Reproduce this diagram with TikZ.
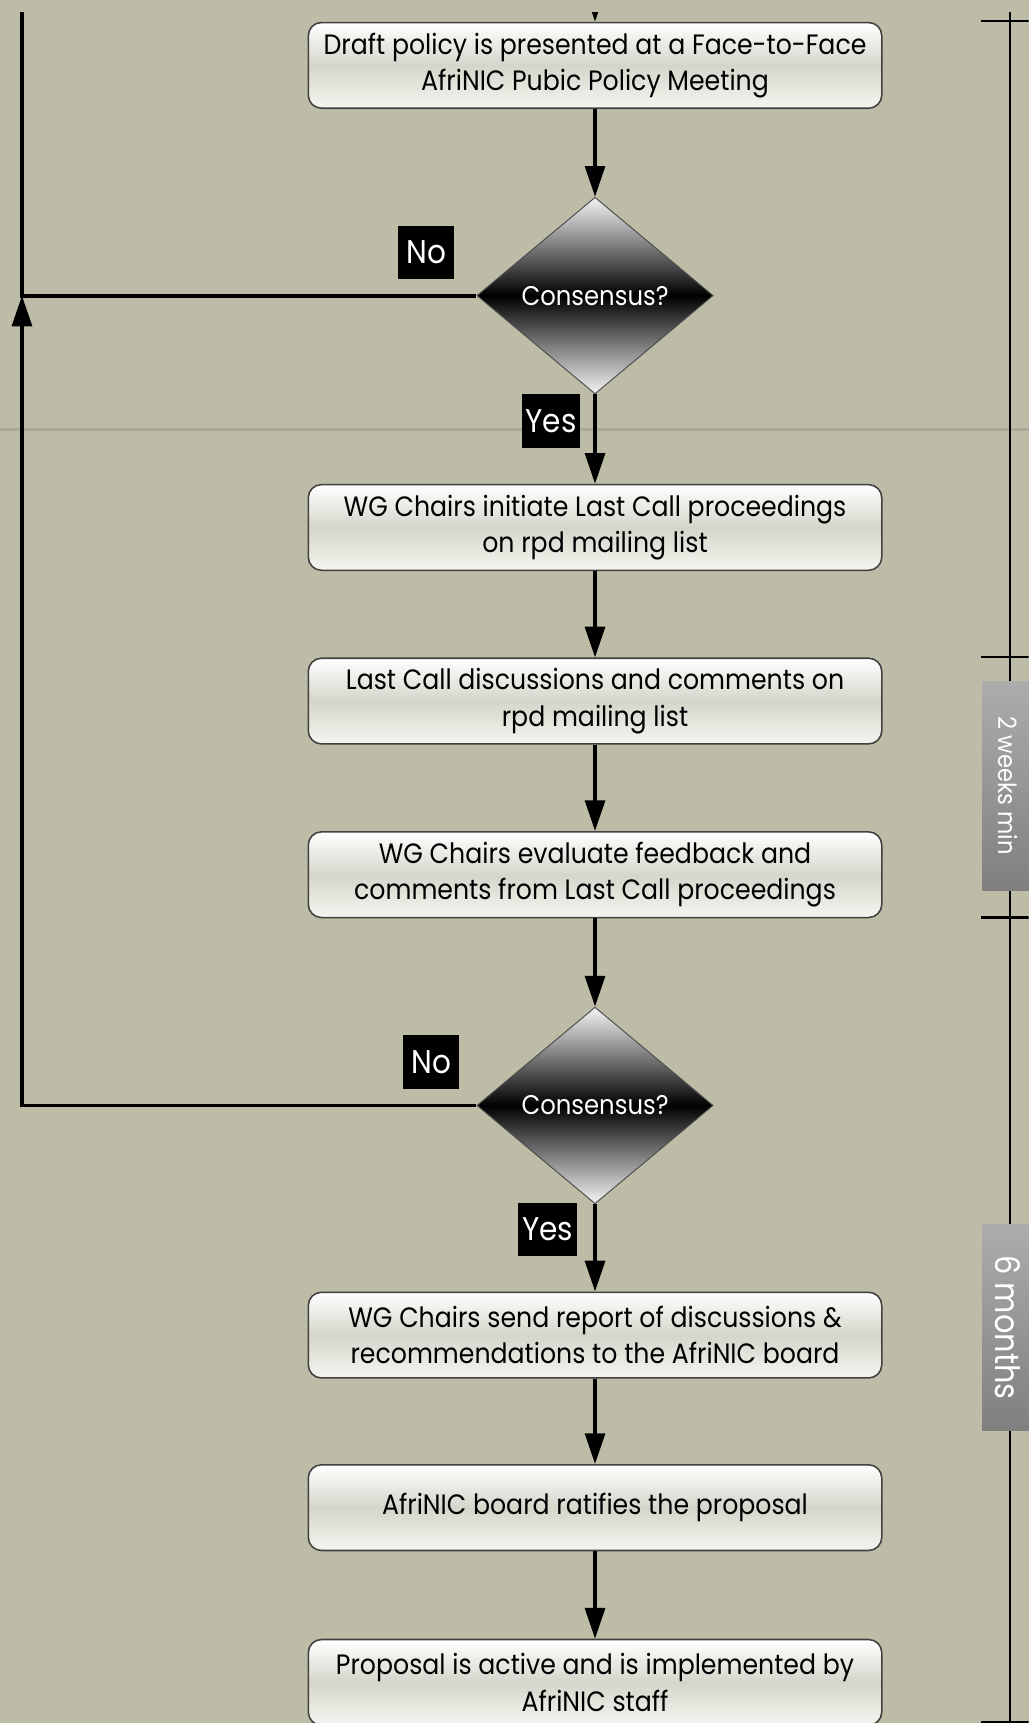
\documentclass[tikz,border=0pt]{standalone}
\usepackage{fontspec}
\setmainfont[FakeStretch=0.9]{Poppins}
\usetikzlibrary{shapes.geometric, arrows.meta, positioning, calc}

\definecolor{paper}{RGB}{189,188,167}
\definecolor{boxmid}{RGB}{214,213,203}
\definecolor{boxlow}{RGB}{245,245,240}
\definecolor{seam}{RGB}{170,168,152}

\tikzset{
  stepbox/.style={rectangle, draw=black!75, line width=0.8pt, rounded corners=0.24cm,
    minimum width=10.44cm, minimum height=1.56cm, inner sep=0pt, align=center,
    top color=white, bottom color=boxlow, middle color=boxmid,
    font=\fontsize{14.5pt}{18.8pt}\selectfont},
  decision/.style={diamond, draw=black!70, line width=0.5pt, minimum width=4.3cm,
    minimum height=3.58cm, inner sep=0pt, text=white,
    top color=gray!8, bottom color=gray!8, middle color=black,
    font=\fontsize{14pt}{18pt}\selectfont},
  tag/.style={fill=black, text=white, inner sep=0pt, minimum height=0.97cm,
    font=\fontsize{17pt}{20pt}\selectfont},
  tab/.style={rotate=-90, text=white, inner sep=0pt, minimum height=0.92cm,
    top color=gray!65, bottom color=gray},
  flow/.style={line width=2pt, -{Triangle[length=0.56cm, width=0.36cm]}},
  link/.style={line width=2pt},
  scaleline/.style={line width=1.1pt}
}

\begin{document}
\begin{tikzpicture}[x=0.02cm, y=-0.02cm]
    \useasboundingbox (0,0) rectangle (936,1568);
    \fill[paper] (0,0) rectangle (936,1568);
    \draw[seam, line width=1.4pt] (0,390.6) -- (936,390.6);
    \clip (0,11.5) rectangle (936,1568);

    % Passi
    \node[stepbox] (draft) at (541.5,59.5) {Draft policy is presented at a Face-to-Face\\AfriNIC Pubic Policy Meeting};
    \node[decision] (cons1) at (541.5,269) {Consensus?};
    \node[stepbox] (lastcall) at (541.5,480) {WG Chairs initiate Last Call proceedings\\on rpd mailing list};
    \node[stepbox] (discuss) at (541.5,638) {Last Call discussions and comments on\\rpd mailing list};
    \node[stepbox] (evaluate) at (541.5,796) {WG Chairs evaluate feedback and\\comments from Last Call proceedings};
    \node[decision] (cons2) at (541.5,1006) {Consensus?};
    \node[stepbox] (report) at (541.5,1215) {WG Chairs send report of discussions \&\\recommendations to the AfriNIC board};
    \node[stepbox] (ratify) at (541.5,1372) {AfriNIC board ratifies the proposal};
    \node[stepbox] (active) at (541.5,1531) {Proposal is active and is implemented by\\AfriNIC staff};

    % Etichette
    \node[tag, minimum width=1.02cm] (no1) at (388,229.5) {No};
    \node[tag, minimum width=1.07cm] (yes1) at (501.5,383) {Yes};
    \node[tag, minimum width=1.02cm] (no2) at (392.5,966.5) {No};
    \node[tag, minimum width=1.08cm] (yes2) at (498.5,1119) {Yes};

    % Frecce
    \coordinate (incoming) at (541.5,-30);
    \draw[flow] (incoming) -- (draft);
    \draw[flow] (draft) -- (cons1);
    \draw[flow] (cons1) -- (lastcall);
    \draw[flow] (lastcall) -- (discuss);
    \draw[flow] (discuss) -- (evaluate);
    \draw[flow] (evaluate) -- (cons2);
    \draw[flow] (cons2) -- (report);
    \draw[flow] (report) -- (ratify);
    \draw[flow] (ratify) -- (active);

    % Ritorno
    \coordinate (loopbottom) at (20,1006);
    \coordinate (loopjoin) at (20,269);
    \coordinate (looptop) at (20,0);
    \draw[flow] (cons2.west) -- (loopbottom) -- (loopjoin);
    \draw[link] (cons1.west) -- (loopjoin) -- (looptop);

    % Tempi
    \coordinate (t0) at (919,19.4);
    \coordinate (t1) at (919,598);
    \coordinate (t2) at (919,835);
    \coordinate (t3) at (919,1567);
    \draw[scaleline] (919,0) -- (t3);
    \foreach \t in {t0,t1,t2,t3}
        \draw[scaleline] ($(\t)+(-26,0)$) -- ($(\t)+(25,0)$);
    \node[tab, minimum width=3.8cm, font=\fontsize{13pt}{15pt}\selectfont] (twoweeks) at (917,715) {2 weeks min};
    \node[tab, minimum width=3.74cm, font=\fontsize{17.5pt}{21pt}\selectfont] (sixmonths) at (917,1208) {6 months};
\end{tikzpicture}
\end{document}
